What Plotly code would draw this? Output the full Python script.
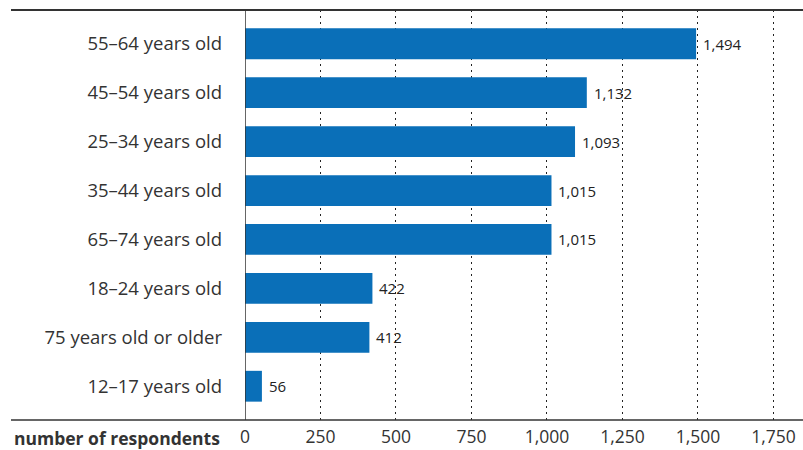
import plotly.graph_objects as go

categories = ["55–64 years old", "45–54 years old", "25–34 years old", "35–44 years old",
              "65–74 years old", "18–24 years old", "75 years old or older", "12–17 years old"]
values = [1494, 1132, 1093, 1015, 1015, 422, 412, 56]
tick_vals = [0, 250, 500, 750, 1000, 1250, 1500, 1750]
tick_text = ["0", "250", "500", "750", "1,000", "1,250", "1,500", "1,750"]
axis_title = "number of respondents"

W, H = 803, 450
L, R, T, B = 245, 0, 10, 30
font = "Open Sans, Noto Sans, sans-serif"

fig = go.Figure(go.Bar(
    x=values, y=categories, orientation="h",
    marker=dict(color="#0a6fb8", line=dict(width=0)),
    width=0.63, hoverinfo="skip",
))

for v, c in zip(values, categories):
    fig.add_annotation(x=v, y=c, text=f"{v:,}", xanchor="left", yanchor="middle",
                       xshift=5, showarrow=False,
                       font=dict(size=15, color="#222222", family=font, weight=500))

x0p = (11 - L) / (W - L - R)
fig.update_layout(
    width=W, height=H, margin=dict(l=L, r=R, t=T, b=B),
    paper_bgcolor="white", plot_bgcolor="white",
    showlegend=False,
    font=dict(family=font, color="#333333"),
    xaxis=dict(range=[0, 1848], tickvals=tick_vals, ticktext=tick_text,
               showgrid=True, gridcolor="#222222", griddash="2px,4px", gridwidth=1,
               zeroline=False, showline=False, ticks="",
               tickfont=dict(size=17.5, color="#333333"), ticklabelstandoff=4),
    yaxis=dict(categoryorder="array", categoryarray=categories,
               range=[7.69, -0.69], showgrid=False, zeroline=False, ticks="",
               tickfont=dict(size=18.5, color="#333333"), ticklabelstandoff=22),
    shapes=[
        dict(type="line", xref="paper", yref="paper", x0=x0p, x1=1, y0=1, y1=1,
             line=dict(color="#333333", width=2)),
        dict(type="line", xref="paper", yref="paper", x0=x0p, x1=1, y0=0, y1=0,
             line=dict(color="#333333", width=1.5)),
        dict(type="line", xref="x", yref="paper", x0=0, x1=0, y0=0, y1=1,
             line=dict(color="#333333", width=1.5)),
    ],
)
fig.add_annotation(text="<b>" + axis_title + "</b>", xref="paper", yref="paper",
                   x=(222 - L) / (W - L - R), y=0, yshift=-18, xanchor="right", yanchor="middle",
                   showarrow=False, font=dict(size=17.5, color="#333333", family=font))
fig.write_html("out.html")
